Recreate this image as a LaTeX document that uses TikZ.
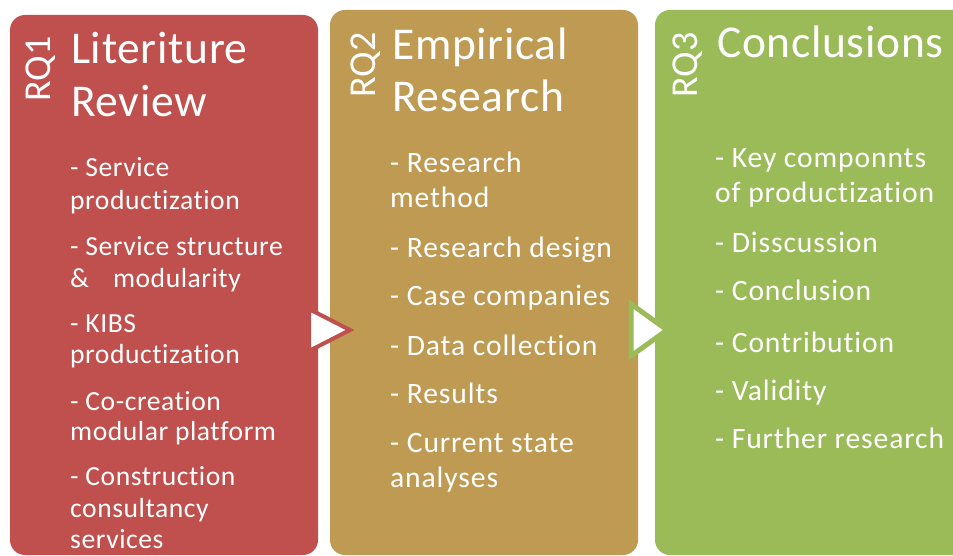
\documentclass[tikz,border=0pt]{standalone}
\usepackage{fontspec}
\setmainfont[Ligatures=NoCommon]{Carlito}
\newfontfamily\titlefont[LetterSpace=1.5,Ligatures=NoCommon]{Carlito}
\newfontfamily\itemfontA[LetterSpace=2,Ligatures=NoCommon]{Carlito}
\newfontfamily\itemfontB[LetterSpace=3,Ligatures=NoCommon]{Carlito}
\definecolor{rqred}{HTML}{C0504D}
\definecolor{rqtan}{HTML}{BE9A53}
\definecolor{rqgreen}{HTML}{9BBB59}
\begin{document}
\begin{tikzpicture}[x=1pt,y=-1pt,
  title/.style={anchor=base west,inner sep=0pt,text=white,font=\titlefont\fontsize{45.5}{52}\selectfont},
  rqlabel/.style={anchor=base west,inner sep=0pt,text=white,rotate=90,font=\fontsize{38}{44}\selectfont},
  itemA/.style={anchor=base west,inner sep=0pt,text=white,font=\itemfontA\fontsize{27.6}{32}\selectfont},
  itemB/.style={anchor=base west,inner sep=0pt,text=white,font=\itemfontB\fontsize{29.6}{34}\selectfont},
  panel/.style={rounded corners=15pt}]
\useasboundingbox (0,0) rectangle (953,556);
\clip (0,0) rectangle (953,556);
\fill[white] (0,0) rectangle (953,556);
% panels
\fill[rqred,panel] (10,15) rectangle (318,555);
\fill[rqtan,panel] (330,10) rectangle (638,555);
\fill[rqgreen,panel] (655,10) rectangle (985,555);
% chevrons
\draw[rqred,fill=white,line width=4pt,line join=miter] (309,309) -- (309,351) -- (350,330) -- cycle;
\draw[rqgreen,fill=white,line width=5pt,line join=miter] (631,304) -- (631,356) -- (667,330) -- cycle;
% column 1
\node[rqlabel] (rq1) at (50,102) {RQ1};
\node[title] (t1a) at (71,64) {Literiture};
\node[title] (t1b) at (71,117) {Review};
\node[itemA] (a1) at (70,177) {- Service};
\node[itemA] (a2) at (70,210) {productization};
\node[itemA] (a3) at (70,255) {- Service structure};
\node[itemA] (a4) at (70,287) {\&\hspace{24pt}modularity};
\node[itemA] (a5) at (70,332) {- KIBS};
\node[itemA] (a6) at (70,363) {productization};
\node[itemA] (a7) at (70,410) {- Co-creation};
\node[itemA] (a8) at (70,440) {modular platform};
\node[itemA] (a9) at (70,485) {- Construction};
\node[itemA] (a10) at (70,517) {consultancy};
\node[itemA] (a11) at (70,548) {services};
% column 2
\node[rqlabel] (rq2) at (375,98) {RQ2};
\node[title] (t2a) at (392,60) {Empirical};
\node[title] (t2b) at (392,112) {Research};
\node[itemB] (b1) at (390,173) {- Research};
\node[itemB] (b2) at (390,208) {method};
\node[itemB] (b3) at (390,257) {- Research design};
\node[itemB] (b4) at (390,305) {- Case companies};
\node[itemB] (b5) at (390,355) {- Data collection};
\node[itemB] (b6) at (390,403) {- Results};
\node[itemB] (b7) at (390,452) {- Current state};
\node[itemB] (b8) at (390,487) {analyses};
% column 3
\node[rqlabel] (rq3) at (697,98) {RQ3};
\node[title] (t3a) at (717,58) {Conclusions};
\node[itemB] (c1) at (715,168) {- Key componnts};
\node[itemB] (c2) at (715,203) {of productization};
\node[itemB] (c3) at (715,252) {- Disscussion};
\node[itemB] (c4) at (715,300) {- Conclusion};
\node[itemB] (c5) at (715,352) {- Contribution};
\node[itemB] (c6) at (715,400) {- Validity};
\node[itemB] (c7) at (715,448) {- Further research};
\end{tikzpicture}
\end{document}
